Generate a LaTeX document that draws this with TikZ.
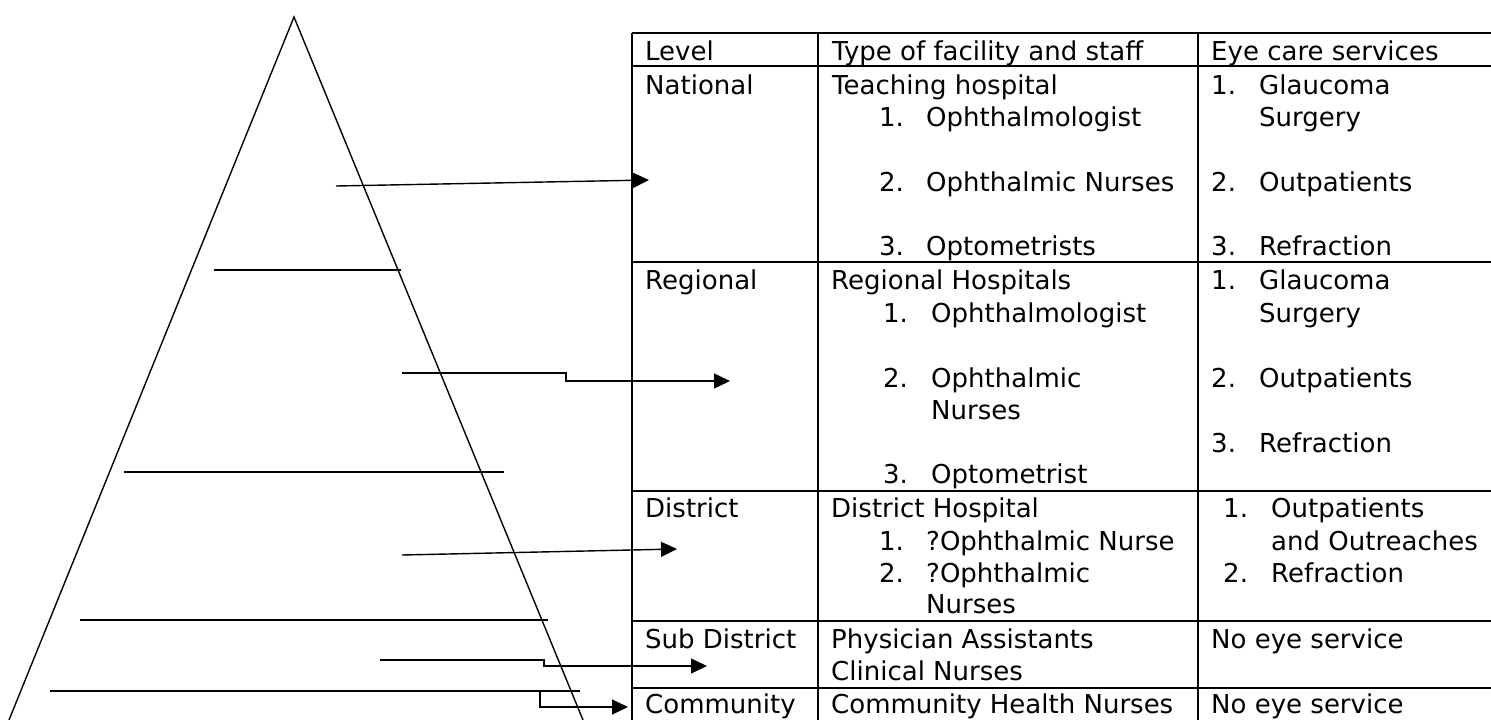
\documentclass[tikz,border=0pt]{standalone}
\usepackage{fontspec}
\setmainfont{DejaVu Sans}
\usetikzlibrary{arrows.meta}
\begin{document}
\begin{tikzpicture}[x=1pt,y=-1pt,
  txt/.style={anchor=base west, inner sep=0pt, font=\fontsize{26}{32}\selectfont},
  grid/.style={line width=1.5pt},
  pline/.style={line width=1.4pt},
  conn/.style={line width=1.4pt, -{Triangle[length=16pt,width=15pt]}},
]
\useasboundingbox (0,0) rectangle (1491,720);
% ---------- pyramid ----------
\coordinate (apex) at (294,17);
\coordinate (bl) at (9,720);
\coordinate (br) at (583,720);
\draw[pline] (bl) -- (apex) -- (br);
\draw[pline] (214,270) -- (401,270);
\draw[pline] (124,472) -- (504,472);
\draw[pline] (80,620) -- (548,620);
\draw[pline] (50,691) -- (580,691);
% ---------- table grid ----------
\draw[grid] (632,33) -- (1491,33);
\draw[grid] (632,66) -- (1491,66);
\draw[grid] (632,262) -- (1491,262);
\draw[grid] (632,491) -- (1491,491);
\draw[grid] (632,621) -- (1491,621);
\draw[grid] (632,688) -- (1491,688);
\draw[grid] (632,33) -- (632,720);
\draw[grid] (818,33) -- (818,720);
\draw[grid] (1198,33) -- (1198,720);
% ---------- header ----------
\node[txt] (hA) at (645,60) {Level};
\node[txt] (hB) at (832,60) {Type of facility and staff};
\node[txt] (hC) at (1211,60) {Eye care services};
% ---------- National ----------
\node[txt] (nA) at (645,94) {National};
\node[txt] (nB0) at (832,94) {Teaching hospital};
\node[txt] (nB1n) at (879,126) {1.};
\node[txt] (nB1) at (926,126) {Ophthalmologist};
\node[txt] (nB2n) at (879,191) {2.};
\node[txt] (nB2) at (926,191) {Ophthalmic Nurses};
\node[txt] (nB3n) at (879,255) {3.};
\node[txt] (nB3) at (926,255) {Optometrists};
\node[txt] (nC1n) at (1211,94) {1.};
\node[txt] (nC1) at (1259,94) {Glaucoma};
\node[txt] (nC1b) at (1259,126) {Surgery};
\node[txt] (nC2n) at (1211,191) {2.};
\node[txt] (nC2) at (1259,191) {Outpatients};
\node[txt] (nC3n) at (1211,255) {3.};
\node[txt] (nC3) at (1259,255) {Refraction};
% ---------- Regional ----------
\node[txt] (rA) at (645,289) {Regional};
\node[txt] (rB0) at (831,289) {Regional Hospitals};
\node[txt] (rB1n) at (883,322) {1.};
\node[txt] (rB1) at (931,322) {Ophthalmologist};
\node[txt] (rB2n) at (883,387) {2.};
\node[txt] (rB2) at (931,387) {Ophthalmic};
\node[txt] (rB2b) at (931,419) {Nurses};
\node[txt] (rB3n) at (883,483) {3.};
\node[txt] (rB3) at (931,483) {Optometrist};
\node[txt] (rC1n) at (1211,289) {1.};
\node[txt] (rC1) at (1259,289) {Glaucoma};
\node[txt] (rC1b) at (1259,322) {Surgery};
\node[txt] (rC2n) at (1211,387) {2.};
\node[txt] (rC2) at (1259,387) {Outpatients};
\node[txt] (rC3n) at (1211,452) {3.};
\node[txt] (rC3) at (1259,452) {Refraction};
% ---------- District ----------
\node[txt] (dA) at (645,517) {District};
\node[txt] (dB0) at (831,517) {District Hospital};
\node[txt] (dB1n) at (879,550) {1.};
\node[txt] (dB1) at (926,550) {?Ophthalmic Nurse};
\node[txt] (dB2n) at (879,582) {2.};
\node[txt] (dB2) at (926,582) {?Ophthalmic};
\node[txt] (dB2b) at (926,613) {Nurses};
\node[txt] (dC1n) at (1223,517) {1.};
\node[txt] (dC1) at (1271,517) {Outpatients};
\node[txt] (dC1b) at (1271,550) {and Outreaches};
\node[txt] (dC2n) at (1223,582) {2.};
\node[txt] (dC2) at (1271,582) {Refraction};
% ---------- Sub District ----------
\node[txt] (sA) at (645,648) {Sub District};
\node[txt] (sB1) at (831,648) {Physician Assistants};
\node[txt] (sB2) at (831,680) {Clinical Nurses};
\node[txt] (sC) at (1211,648) {No eye service};
% ---------- Community ----------
\node[txt] (cA) at (645,713) {Community};
\node[txt] (cB) at (831,713) {Community Health Nurses};
\node[txt] (cC) at (1211,713) {No eye service};
% ---------- connectors ----------
\coordinate (nS) at (336,186);
\coordinate (nE) at (649,180);
\draw[conn] (nS) -- (nE);
\coordinate (rS) at (402,373);
\coordinate (rK1) at (566,373);
\coordinate (rK2) at (566,381);
\coordinate (rE) at (730,381);
\draw[conn] (rS) -- (rK1) -- (rK2) -- (rE);
\coordinate (dS) at (402,555);
\coordinate (dE) at (677,549);
\draw[conn] (dS) -- (dE);
\coordinate (sS) at (380,660);
\coordinate (sK1) at (544,660);
\coordinate (sK2) at (544,666);
\coordinate (sE) at (707,666);
\draw[conn] (sS) -- (sK1) -- (sK2) -- (sE);
\coordinate (cS) at (452,691);
\coordinate (cK1) at (540,691);
\coordinate (cK2) at (540,707);
\coordinate (cE) at (628,707);
\draw[conn] (cS) -- (cK1) -- (cK2) -- (cE);
\end{tikzpicture}
\end{document}
